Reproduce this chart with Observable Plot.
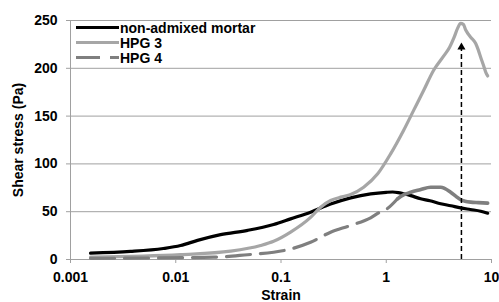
<!DOCTYPE html>
<html>
<head>
<meta charset="utf-8">
<script src="https://cdn.jsdelivr.net/npm/d3@7"></script>
<script src="https://cdn.jsdelivr.net/npm/@observablehq/plot@0.6"></script>
<style>
  html, body { margin: 0; padding: 0; background: white; }
  #wrap { position: relative; width: 499px; height: 302px; font-family: "Liberation Sans", Arial, sans-serif; }
  #legend { position: absolute; left: 76px; top: 20px; font-weight: bold; font-size: 14px; color: black; }
  #legend .row { display: flex; align-items: center; height: 15px; }
  #legend svg { display: block; margin-right: 1px; }
</style>
</head>
<body>
<div id="wrap"><div id="legend"></div></div>
<script>
// Series names
const seriesNames = ["non-admixed mortar", "HPG 3", "HPG 4"];

// non-admixed mortar: [strain, shear stress (Pa)]
const mortarStrain = [0.00155, 0.00372, 0.00762, 0.0111, 0.0161, 0.0267, 0.0482, 0.0851, 0.1234, 0.191, 0.296, 0.459, 0.711, 1.0, 1.15, 1.3, 1.45, 1.71, 2.12, 2.6, 3.29, 4.1, 5.09, 6.3, 7.89, 9.2];
const mortarStress = [6.6, 8.4, 11.5, 14.6, 20, 26, 30.5, 36.6, 42.5, 49.5, 58, 64.5, 68.7, 70.3, 70.6, 70, 68.8, 66.8, 63.5, 61.5, 58.3, 56.2, 54, 52.3, 50.5, 48.4];

// HPG 3
const hpg3Strain = [0.00155, 0.0111, 0.0332, 0.064, 0.0851, 0.1234, 0.191, 0.238, 0.296, 0.38, 0.459, 0.610, 0.829, 1.10, 1.46, 1.82, 2.27, 2.82, 3.52, 4.0, 4.4, 4.77, 5.09, 5.4, 5.69, 6.0, 6.34, 7.08, 7.5, 7.89, 8.4, 8.81, 9.2];
const hpg3Stress = [2.4, 5, 8.7, 14.6, 19, 28.6, 44, 54.7, 61.7, 65.5, 68, 75.6, 89.6, 110.5, 135, 156, 177, 198, 213, 222, 232, 242, 247, 246, 240, 236, 232.5, 226, 219, 211.6, 203, 196, 192];

// HPG 4
const hpg4Strain = [0.00155, 0.0229, 0.0482, 0.0851, 0.1234, 0.191, 0.296, 0.459, 0.711, 0.885, 1.0, 1.28, 1.37, 1.71, 2.1, 2.64, 3.29, 4.09, 4.6, 5.09, 5.6, 6.34, 7.5, 9.2];
const hpg4Stress = [1.2, 2.4, 5, 7.6, 11, 18, 28.6, 35.6, 43.6, 50, 52.5, 63.5, 66, 70.4, 73, 75.6, 75.6, 70.4, 66, 62.5, 61, 60, 59.5, 59];

// Arrow marking the HPG 3 peak
const arrowStrain = [5.18];
const arrowTop = [222];

// Axis ticks
const xTicks = [0.001, 0.01, 0.1, 1, 10];
const xTickLabels = ["0.001", "0.01", "0.1", "1", "10"];
const yTicks = [0, 50, 100, 150, 200, 250];

const colors = ["#000000", "#a6a6a6", "#7f7f7f"];
const dashes = [null, null, "24,10"];

const mortar = mortarStrain.map((s, i) => ({strain: s, stress: mortarStress[i]}));
const hpg3 = hpg3Strain.map((s, i) => ({strain: s, stress: hpg3Stress[i]}));
const hpg4 = hpg4Strain.map((s, i) => ({strain: s, stress: hpg4Stress[i]}));
const hpg4Smooth = hpg4.filter(d => d.strain <= 1.28);
const hpg4Noisy = hpg4.filter(d => d.strain >= 1.28);
const arrow = arrowStrain.map((s, i) => ({strain: s, top: arrowTop[i]}));
const xLabelOf = new Map(xTicks.map((t, i) => [t, xTickLabels[i]]));

const grid = "#a0a0a0";

const chart = Plot.plot({
  width: 499,
  height: 302,
  marginLeft: 70,
  marginRight: 8,
  marginTop: 20,
  marginBottom: 43,
  style: {fontFamily: "'Liberation Sans', Arial, sans-serif", fontSize: "14px", fontWeight: "bold", background: "white", color: "black", overflow: "visible"},
  x: {type: "log", domain: [0.001, 10]},
  y: {domain: [0, 250]},
  marks: [
    Plot.gridY(yTicks, {stroke: grid, strokeOpacity: 1}),
    Plot.ruleX([0.001], {stroke: grid}),
    Plot.ruleY([0], {stroke: grid}),
    Plot.axisY(yTicks, {tickSize: 4, tickPadding: 9, stroke: grid, fill: "black", fontSize: 14, fontWeight: "bold",
      label: "Shear stress (Pa)", labelAnchor: "center", labelArrow: "none", labelOffset: 57}),
    Plot.axisX(xTicks, {tickSize: 4, tickPadding: 9, stroke: grid, fill: "black", fontSize: 14, fontWeight: "bold",
      tickFormat: d => xLabelOf.get(d),
      label: "Strain", labelAnchor: "center", labelArrow: "none", labelOffset: 40}),
    Plot.line(mortar, {x: "strain", y: "stress", stroke: colors[0], strokeWidth: 3.2, curve: "monotone-x"}),
    Plot.line(hpg3, {x: "strain", y: "stress", stroke: colors[1], strokeWidth: 3.2, curve: "monotone-x"}),
    Plot.line(hpg4Smooth, {x: "strain", y: "stress", stroke: colors[2], strokeWidth: 3.2, strokeDasharray: dashes[2], curve: "monotone-x"}),
    Plot.line(hpg4Noisy, {x: "strain", y: "stress", stroke: colors[2], strokeWidth: 3.6, curve: "monotone-x"}),
    Plot.ruleX(arrow, {x: "strain", y1: 0, y2: "top", stroke: "black", strokeWidth: 1.5, strokeDasharray: "5,3"}),
    Plot.dot(arrow, {x: "strain", y: "top", symbol: "triangle", r: 3, fill: "black", stroke: "none"})
  ]
});
document.getElementById("wrap").prepend(chart);

// Legend (overlaid inside the plot area)
const legend = document.getElementById("legend");
seriesNames.forEach((name, i) => {
  const row = document.createElement("div");
  row.className = "row";
  const dash = dashes[i] ? ` stroke-dasharray="${dashes[i]}"` : "";
  row.innerHTML = `<svg width="43" height="15"><line x1="0" x2="43" y1="7.5" y2="7.5" stroke="${colors[i]}" stroke-width="3"${dash}/></svg><span>${name}</span>`;
  legend.appendChild(row);
});
</script>
</body>
</html>
